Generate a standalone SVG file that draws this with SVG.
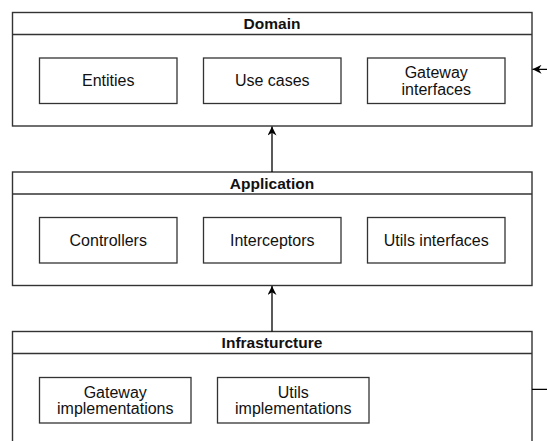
<svg xmlns="http://www.w3.org/2000/svg" width="547" height="441" viewBox="0 0 547 441">
  <defs>
    <marker id="arrow" viewBox="0 0 10 10" refX="10" refY="5" markerWidth="10" markerHeight="9" orient="auto" markerUnits="userSpaceOnUse">
      <path d="M0,0 L10,5 L0,10 L3,5 Z" fill="#000"/>
    </marker>
    <style>
      .layer { fill: #fff; stroke: #333; stroke-width: 1.4; }
      .sep { stroke: #333; stroke-width: 1.4; }
      .box { fill: #fff; stroke: #333; stroke-width: 1.3; }
      .title { font-family: "Liberation Sans", Arial, sans-serif; font-size: 15.5px; font-weight: bold; fill: #111; text-anchor: middle; }
      .label { font-family: "Liberation Sans", Arial, sans-serif; font-size: 16px; fill: #111; text-anchor: middle; }
      .edge { fill: none; stroke: #000; stroke-width: 1.3; marker-end: url(#arrow); }
    </style>
  </defs>
  <rect width="547" height="441" fill="#fff"/>

  <!-- Domain layer -->
  <g id="domain">
    <rect class="layer" x="12.5" y="12.5" width="519.5" height="113.5"/>
    <line class="sep" x1="12.5" y1="34.5" x2="532" y2="34.5"/>
    <text class="title" x="272" y="29">Domain</text>
  </g>
  <g id="entities">
    <rect class="box" x="39.5" y="58" width="137.5" height="45.5"/>
    <text class="label" x="108.25" y="86.4">Entities</text>
  </g>
  <g id="use-cases">
    <rect class="box" x="203.5" y="58" width="137.5" height="45.5"/>
    <text class="label" x="272.25" y="86.4">Use cases</text>
  </g>
  <g id="gateway-interfaces">
    <rect class="box" x="367.5" y="58" width="137.5" height="45.5"/>
    <text class="label" x="436.25" y="78">Gateway</text>
    <text class="label" x="436.25" y="94.8">interfaces</text>
  </g>

  <!-- Application layer -->
  <g id="application">
    <rect class="layer" x="12.5" y="172" width="519.5" height="113.5"/>
    <line class="sep" x1="12.5" y1="194" x2="532" y2="194"/>
    <text class="title" x="272" y="188.5">Application</text>
  </g>
  <g id="controllers">
    <rect class="box" x="39.5" y="217.5" width="137.5" height="45.5"/>
    <text class="label" x="108.25" y="245.9">Controllers</text>
  </g>
  <g id="interceptors">
    <rect class="box" x="203.5" y="217.5" width="137.5" height="45.5"/>
    <text class="label" x="272.25" y="245.9">Interceptors</text>
  </g>
  <g id="utils-interfaces">
    <rect class="box" x="367.5" y="217.5" width="137.5" height="45.5"/>
    <text class="label" x="436.25" y="245.9">Utils interfaces</text>
  </g>

  <!-- Infrastructure layer -->
  <g id="infrastructure">
    <rect class="layer" x="12.5" y="331.5" width="519.5" height="115.5"/>
    <line class="sep" x1="12.5" y1="353.5" x2="532" y2="353.5"/>
    <text class="title" x="272" y="348">Infrasturcture</text>
  </g>
  <g id="gateway-implementations">
    <rect class="box" x="39.5" y="377.5" width="151.5" height="45.5"/>
    <text class="label" x="115.25" y="397.5">Gateway</text>
    <text class="label" x="115.25" y="414.3">implementations</text>
  </g>
  <g id="utils-implementations">
    <rect class="box" x="217.5" y="377.5" width="151.5" height="45.5"/>
    <text class="label" x="293.25" y="397.5">Utils</text>
    <text class="label" x="293.25" y="414.3">implementations</text>
  </g>

  <!-- Dependencies between layers -->
  <g id="connectors">
    <path class="edge" d="M272,172 L272,126.5"/>
    <path class="edge" d="M272,331.5 L272,286"/>
    <path class="edge" d="M532,389.3 L565,389.3 L565,69.3 L532.5,69.3"/>
  </g>
</svg>
